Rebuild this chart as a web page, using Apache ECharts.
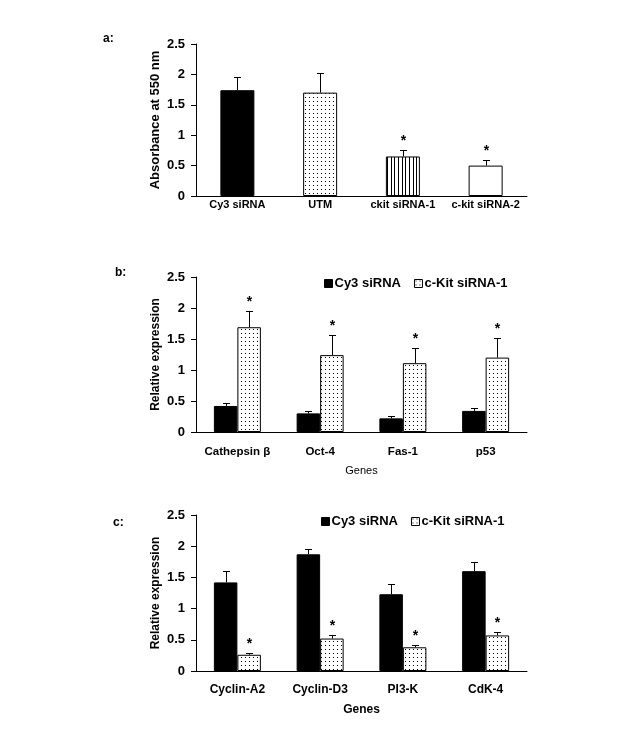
<!DOCTYPE html>
<html>
<head>
<meta charset="utf-8">
<script src="https://cdn.jsdelivr.net/npm/echarts@6/dist/echarts.min.js"></script>
<style>
html,body{margin:0;padding:0;background:#fff;}
#chart{width:642px;height:751px;}
</style>
</head>
<body>
<div id="chart"></div>
<script>
// ---- Data ----
const catsA = ['Cy3 siRNA', 'UTM', 'ckit siRNA-1', 'c-kit siRNA-2'];
const valsA = [1.74, 1.70, 0.65, 0.50];
const errA = [0.22, 0.32, 0.11, 0.10];
const sigA = [false, false, true, true];

const catsB = ['Cathepsin β', 'Oct-4', 'Fas-1', 'p53'];
const cy3B = [0.42, 0.30, 0.22, 0.34];
const cy3BErr = [0.05, 0.04, 0.04, 0.05];
const kitB = [1.69, 1.24, 1.11, 1.20];
const kitBErr = [0.26, 0.32, 0.25, 0.31];

const catsC = ['Cyclin-A2', 'Cyclin-D3', 'PI3-K', 'CdK-4'];
const cy3C = [1.42, 1.87, 1.23, 1.60];
const cy3CErr = [0.18, 0.08, 0.16, 0.14];
const kitC = [0.26, 0.52, 0.38, 0.57];
const kitCErr = [0.03, 0.05, 0.04, 0.05];

const yTicks = ['0', '0.5', '1', '1.5', '2', '2.5'];
const seriesNames = ['Cy3 siRNA', 'c-Kit siRNA-1'];

// ---- Patterns ----
function makeDots() {
  const c = document.createElement('canvas'); c.width = 4; c.height = 4;
  const g = c.getContext('2d');
  g.fillStyle = '#fff'; g.fillRect(0, 0, 4, 4);
  g.fillStyle = '#000'; g.fillRect(1, 1, 1, 1);
  return c;
}
function makeStripes() {
  const c = document.createElement('canvas'); c.width = 11; c.height = 4;
  const g = c.getContext('2d');
  g.fillStyle = '#fff'; g.fillRect(0, 0, 11, 4);
  g.fillStyle = '#000'; g.fillRect(2, 0, 1, 4); g.fillRect(6, 0, 1, 4); g.fillRect(9, 0, 1, 4);
  return c;
}
const dotFill = { image: makeDots(), repeat: 'repeat' };
const stripeFill = { image: makeStripes(), repeat: 'repeat' };

const FONT = "'Liberation Sans', Arial, sans-serif";
const chart = echarts.init(document.getElementById('chart'), null, { renderer: 'canvas' });

const grids = [
  { left: 196, right: 115, top: 44, height: 152 },
  { left: 196, right: 115, top: 277, height: 155 },
  { left: 196, right: 115, top: 515, height: 156 }
];

function yAxis(i, name, gap) {
  return {
    type: 'value', gridIndex: i, min: 0, max: 2.5, interval: 0.5,
    name: name, nameLocation: 'middle', nameGap: gap, nameMoveOverlap: false,
    nameTextStyle: { fontFamily: FONT, fontWeight: 'bold', fontSize: i === 0 ? 13 : 12, color: '#000' },
    axisLine: { show: true, lineStyle: { color: '#000', width: 1 } },
    axisTick: { show: true, inside: false, length: 5, lineStyle: { color: '#000' } },
    splitLine: { show: false },
    axisLabel: { fontFamily: FONT, fontWeight: 'bold', fontSize: 13, color: '#000', margin: 11,
      formatter: function (v) { return yTicks[Math.round(v / 0.5)]; } }
  };
}
function xAxis(i, cats, fs, margin, name, nameStyle, nameGap) {
  return {
    type: 'category', gridIndex: i, data: cats,
    axisLine: { show: true, onZero: false, lineStyle: { color: '#000', width: 1 } },
    axisTick: { show: false },
    axisLabel: { interval: 0, fontFamily: FONT, fontWeight: 'bold', fontSize: fs, color: '#000', margin: margin },
    name: name || '', nameLocation: 'middle', nameGap: nameGap || 0, nameMoveOverlap: false,
    nameTextStyle: nameStyle || {}
  };
}

function errSeries(xi, vals, errs, offset, stars) {
  return {
    type: 'custom', xAxisIndex: xi, yAxisIndex: xi, silent: true, z: 5,
    data: vals.map((v, i) => [i, v, v + errs[i], stars[i] ? 1 : 0]),
    renderItem: function (params, api) {
      const p0 = api.coord([api.value(0), api.value(1)]);
      const p1 = api.coord([api.value(0), api.value(2)]);
      const x = Math.round(p0[0] + offset) + 0.5;
      const yt = Math.round(p1[1]) + 0.5;
      const children = [
        { type: 'line', shape: { x1: x, y1: p0[1], x2: x, y2: yt }, style: { stroke: '#000', lineWidth: 1 } },
        { type: 'line', shape: { x1: x - 3.5, y1: yt, x2: x + 3.5, y2: yt }, style: { stroke: '#000', lineWidth: 1 } }
      ];
      if (api.value(3)) {
        children.push({ type: 'text', style: { text: '*', x: x, y: yt - 9, align: 'center', verticalAlign: 'middle',
          font: 'bold 14px ' + FONT, fill: '#000' } });
      }
      return { type: 'group', children: children };
    }
  };
}

const barBorder = { borderColor: '#000', borderWidth: 1 };
const fillsA = ['#000', dotFill, stripeFill, '#fff'];
const allTrue = [true, true, true, true];
const allFalse = [false, false, false, false];
const BW = 23.5;

function legend(left, top) {
  return { data: seriesNames, left: left, top: top, itemWidth: 8, itemHeight: 8, itemGap: 13,
    itemStyle: { borderColor: '#000', borderWidth: 1 },
    textStyle: { fontFamily: FONT, fontWeight: 'bold', fontSize: 13, color: '#000', padding: [0, 0, 0, -3] },
    icon: 'rect', selectedMode: false };
}

const option = {
  backgroundColor: '#fff',
  animation: false,
  textStyle: { fontFamily: FONT },
  title: [
    { text: 'a:', left: 98, top: 28, textStyle: { fontFamily: FONT, fontWeight: 'bold', fontSize: 12, color: '#000' } },
    { text: 'b:', left: 110, top: 262, textStyle: { fontFamily: FONT, fontWeight: 'bold', fontSize: 12, color: '#000' } },
    { text: 'c:', left: 108, top: 512, textStyle: { fontFamily: FONT, fontWeight: 'bold', fontSize: 12, color: '#000' } }
  ],
  legend: [legend(319, 272), legend(316, 510)],
  grid: grids,
  xAxis: [
    xAxis(0, catsA, 11, 3),
    xAxis(1, catsB, 11.5, 14, 'Genes', { fontFamily: FONT, fontWeight: 'normal', fontSize: 11, color: '#000' }, 33),
    xAxis(2, catsC, 12, 13, 'Genes', { fontFamily: FONT, fontWeight: 'bold', fontSize: 12, color: '#000' }, 33)
  ],
  yAxis: [
    yAxis(0, 'Absorbance at 550 nm', 34),
    yAxis(1, 'Relative expression', 34),
    yAxis(2, 'Relative expression', 34)
  ],
  series: [
    { type: 'bar', name: 'Absorbance', xAxisIndex: 0, yAxisIndex: 0, barWidth: 34,
      data: valsA.map((v, i) => ({ value: v, itemStyle: Object.assign({ color: fillsA[i] }, barBorder) })) },
    errSeries(0, valsA, errA, 0, sigA),

    { type: 'bar', name: seriesNames[0], xAxisIndex: 1, yAxisIndex: 1, barWidth: BW, barGap: '0%',
      itemStyle: Object.assign({ color: '#000' }, barBorder), data: cy3B },
    { type: 'bar', name: seriesNames[1], xAxisIndex: 1, yAxisIndex: 1, barWidth: BW, barGap: '0%',
      itemStyle: Object.assign({ color: dotFill }, barBorder), data: kitB },
    errSeries(1, cy3B, cy3BErr, -BW / 2, allFalse),
    errSeries(1, kitB, kitBErr, BW / 2, allTrue),

    { type: 'bar', name: seriesNames[0], xAxisIndex: 2, yAxisIndex: 2, barWidth: BW, barGap: '0%',
      itemStyle: Object.assign({ color: '#000' }, barBorder), data: cy3C },
    { type: 'bar', name: seriesNames[1], xAxisIndex: 2, yAxisIndex: 2, barWidth: BW, barGap: '0%',
      itemStyle: Object.assign({ color: dotFill }, barBorder), data: kitC },
    errSeries(2, cy3C, cy3CErr, -BW / 2, allFalse),
    errSeries(2, kitC, kitCErr, BW / 2, allTrue)
  ]
};
chart.setOption(option);
</script>
</body>
</html>
